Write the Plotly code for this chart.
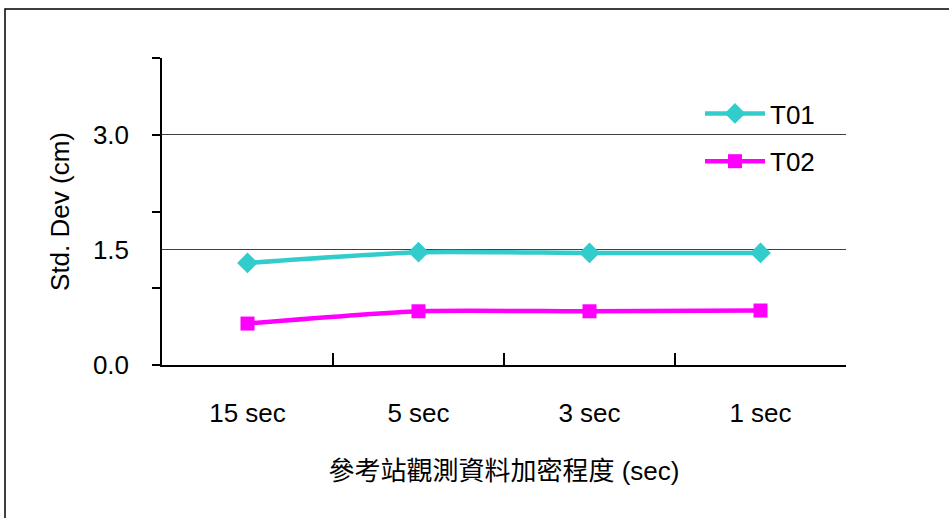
import plotly.graph_objects as go

categories = ["15 sec", "5 sec", "3 sec", "1 sec"]
t01 = [1.33, 1.47, 1.46, 1.46]
t02 = [0.54, 0.70, 0.70, 0.71]
y_tick_vals = [0, 1.5, 3.0]
y_tick_text = ["0.0", "1.5", "3.0"]
y_minor_vals = [0, 1, 2, 3, 4]

FONT = "Liberation Sans, Arial, sans-serif"
CJK = "Liberation Sans, Noto Sans CJK TC, sans-serif"
FS = 26

fig = go.Figure()
fig.add_trace(go.Scatter(
    x=categories, y=t01, name="T01", mode="lines+markers", legendgroup="a",
    line=dict(color="#33CCCC", width=4.5, shape="spline", smoothing=0.6),
    marker=dict(symbol="diamond", size=16, color="#33CCCC"),
))
fig.add_trace(go.Scatter(
    x=categories, y=t02, name="T02", mode="lines+markers", legendgroup="b",
    line=dict(color="#FF00FF", width=4.5, shape="spline", smoothing=0.6),
    marker=dict(symbol="square", size=14, color="#FF00FF"),
))

L, R, T, B = 162, 103, 58, 153
W, H = 949, 518
pw, ph = W - L - R, H - T - B

def px_x(x):
    return (x - L) / pw

def px_y(y):
    return (H - B - y) / ph

fig.update_layout(
    width=W, height=H,
    margin=dict(l=L, r=R, t=T, b=B),
    paper_bgcolor="white", plot_bgcolor="white",
    font=dict(family=FONT, size=FS, color="black"),
    showlegend=True,
    legend=dict(
        x=px_x(700), y=px_y(90), xanchor="left", yanchor="top",
        bgcolor="rgba(0,0,0,0)", font=dict(size=FS, family=FONT),
        tracegroupgap=11, itemwidth=60,
    ),
    xaxis=dict(
        type="category", showgrid=False, zeroline=False,
        showline=True, linecolor="black", linewidth=1.5,
        ticks="inside", tickson="boundaries", ticklen=12, tickcolor="black", tickwidth=1.5,
        tickfont=dict(size=FS, family=FONT),
        ticklabelstandoff=24,
        title=dict(text="參考站觀測資料加密程度 (sec)", font=dict(size=FS, family=CJK), standoff=35),
        automargin=False, range=[-0.5, 3.5],
    ),
    yaxis=dict(
        range=[0, 4], showgrid=True, gridcolor="#404040", gridwidth=1,
        zeroline=False, showline=True, linecolor="black", linewidth=1.5,
        tickmode="array", tickvals=y_tick_vals, ticktext=y_tick_text,
        ticks="", tickfont=dict(size=FS, family=FONT),
        ticklabelstandoff=26,
        minor=dict(tickmode="array", tickvals=y_minor_vals, ticks="outside",
                   ticklen=8, tickcolor="black", tickwidth=1.5, showgrid=False),
        title=dict(text="Std. Dev (cm)", font=dict(size=FS, family=FONT), standoff=16),
        automargin=False,
    ),
    shapes=[
        dict(type="rect", xref="paper", yref="paper",
             x0=px_x(672), x1=1.0, y0=px_y(190), y1=px_y(88),
             fillcolor="white", line=dict(width=0), layer="between"),
        dict(type="rect", xref="paper", yref="paper",
             x0=px_x(5), x1=px_x(1000), y0=px_y(9), y1=px_y(560),
             fillcolor="rgba(0,0,0,0)", line=dict(color="black", width=1.5), layer="above"),
    ],
)

fig.write_html("out.html")
